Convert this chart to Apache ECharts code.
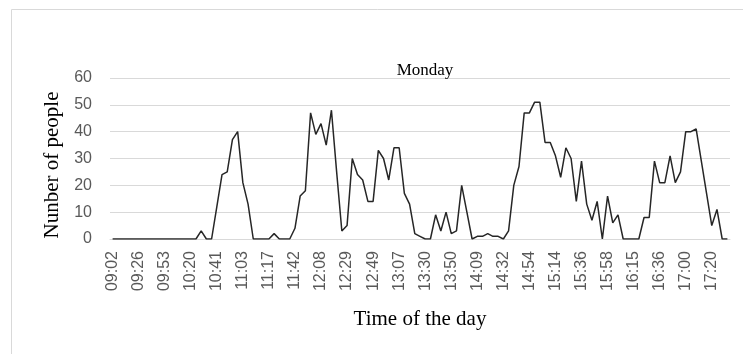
<!DOCTYPE html>
<html lang="en">
<head>
  <meta charset="UTF-8">
  <title>Monday</title>
  <script src="https://cdn.jsdelivr.net/npm/echarts@6/dist/echarts.min.js"></script>
  <style>
    html, body { margin: 0; padding: 0; background: #fff; }
    #chart { width: 743px; height: 354px; }
  </style>
</head>
<body>
  <div id="chart"></div>
  <script>
    // tick labels shown on the x axis (every 5th sample)
    var tickLabels = ['09:02','09:26','09:53','10:20','10:41','11:03','11:17','11:42',
      '12:08','12:29','12:49','13:07','13:30','13:50','14:09','14:32',
      '14:54','15:14','15:36','15:58','16:15','16:36','17:00','17:20'];

    // number of people per sample (119 samples)
    var people = [
      0,0,0,0,0,0,0,0,0,0, 0,0,0,0,0,0,0,3,0,0,
      12,24,25,37,40,21,13,0,0,0, 0,2,0,0,0,4,16,18,47,39,
      43,35,48,25,3,5,30,24,22,14, 14,33,30,22,34,34,17,13,2,1,
      0,0,9,3,10,2,3,20,10,0, 1,1,2,1,1,0,3,20,27,47,
      47,51,51,36,36,31,23,34,30,14, 29,13,7,14,0,16,6,9,0,0,
      0,0,8,8,29,21,21,31,21,25, 40,40,41,29,17,5,11,0,0
    ];

    var categories = people.map(function (v, i) {
      return i % 5 === 0 ? tickLabels[i / 5] : '';
    });

    var chart = echarts.init(document.getElementById('chart'));
    chart.setOption({
      animation: false,
      title: {
        text: 'Monday', left: 420, top: 57, textAlign: 'center',
        textStyle: { fontFamily: 'Liberation Serif', fontSize: 17, fontWeight: 'normal', color: '#000' }
      },
      graphic: [{
        type: 'rect', silent: true,
        shape: { x: 11.5, y: 9.5, width: 800, height: 400 },
        style: { fill: 'none', stroke: '#d9d9d9', lineWidth: 1 }
      }],
      grid: { left: 110, right: 13, top: 78, bottom: 115 },
      xAxis: {
        type: 'category', data: categories, boundaryGap: true,
        name: 'Time of the day', nameLocation: 'middle', nameGap: 70,
        nameTextStyle: { fontFamily: 'Liberation Serif', fontSize: 21, color: '#000' },
        axisLine: { lineStyle: { color: '#d9d9d9' } },
        axisTick: { show: false },
        axisLabel: {
          interval: 4, rotate: 90, margin: 12,
          fontFamily: 'Liberation Sans', fontSize: 16, color: '#595959'
        }
      },
      yAxis: {
        type: 'value', min: 0, max: 60, interval: 10,
        name: 'Nunber of people', nameLocation: 'middle', nameGap: 41,
        nameTextStyle: { fontFamily: 'Liberation Serif', fontSize: 21, color: '#000', padding: [0, 13, 0, 0] },
        axisLine: { show: false },
        axisTick: { show: false },
        splitLine: { lineStyle: { color: '#d9d9d9' } },
        axisLabel: { margin: 18, fontFamily: 'Liberation Sans', fontSize: 16, color: '#595959' }
      },
      series: [{
        type: 'line', data: people, symbol: 'none',
        lineStyle: { color: '#262626', width: 1.5 }
      }]
    });
  </script>
</body>
</html>
